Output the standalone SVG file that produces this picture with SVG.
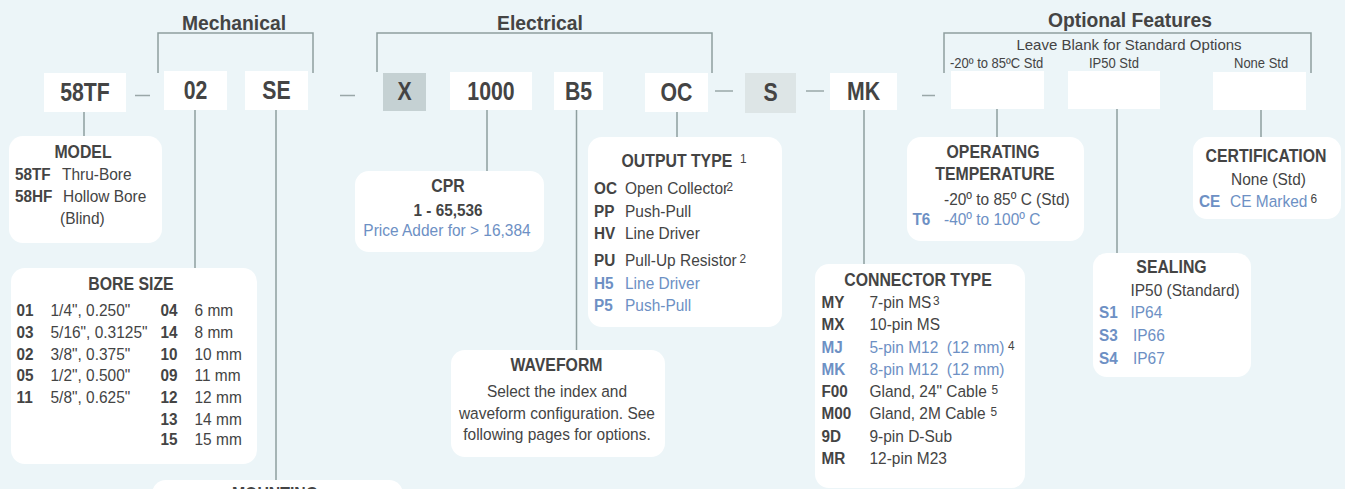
<svg xmlns="http://www.w3.org/2000/svg" width="1345" height="489" viewBox="0 0 1345 489">
<style>
text { font-family: "Liberation Sans", Arial, sans-serif; fill: #444; transform-box: fill-box; transform-origin: left center; }
.m { text-anchor: middle; transform-origin: center; }
.code { font-size: 25px; font-weight: bold; transform: scaleX(0.85); }
.hd { font-size: 21px; font-weight: bold; transform: scaleX(0.92); }
.bh { font-size: 18px; font-weight: bold; transform: scaleX(0.88); }
.b { font-size: 17px; transform: scaleX(0.91); }
.bb { font-size: 17px; font-weight: bold; transform: scaleX(0.9); }
.sup { font-size: 13px; transform: scaleX(0.91); }
.sm { font-size: 14px; transform: scaleX(0.93); }
.sm2 { font-size: 15px; }
.blue { fill: #6D90C4; }
.cbox { fill: #ffffff; }
.ibox { fill: #ffffff; }
.ln { stroke: #8E9E9F; stroke-width: 1.5; fill: none; }
.dash { stroke: #9AA7A8; stroke-width: 1.5; fill: none; }
</style>
<rect x="0" y="0" width="1345" height="489" fill="#ECF5F8"/>

<g id="connectors">
  <path class="ln" d="M158 73 V33 H313 V73"/>
  <path class="ln" d="M377 72 V33 H712 V73"/>
  <path class="ln" d="M944 73 V33 H1311 V73"/>
  <line class="dash" x1="135" y1="95.5" x2="150" y2="95.5"/>
  <line class="dash" x1="340" y1="95.5" x2="355" y2="95.5"/>
  <line class="dash" x1="715" y1="91" x2="733" y2="91"/>
  <line class="dash" x1="806" y1="91" x2="824" y2="91"/>
  <line class="dash" x1="922" y1="95.5" x2="935" y2="95.5"/>
  <line class="ln" x1="84" y1="112" x2="84" y2="136"/>
  <line class="ln" x1="195" y1="110" x2="195" y2="268"/>
  <line class="ln" x1="276" y1="110" x2="276" y2="480"/>
  <line class="ln" x1="487" y1="110" x2="487" y2="171"/>
  <line class="ln" x1="576.5" y1="110" x2="576.5" y2="350"/>
  <line class="ln" x1="677" y1="112" x2="677" y2="137"/>
  <line class="ln" x1="864" y1="110" x2="864" y2="264"/>
  <line class="ln" x1="997" y1="109" x2="997" y2="137"/>
  <line class="ln" x1="1117" y1="109" x2="1117" y2="253"/>
  <line class="ln" x1="1261" y1="110" x2="1261" y2="137"/>
</g>

<g id="headers">
  <text class="hd m" x="234" y="30">Mechanical</text>
  <text class="hd m" x="540" y="30">Electrical</text>
  <text class="hd m" x="1130" y="27">Optional Features</text>
  <text class="sm2 m" x="1129" y="50">Leave Blank for Standard Options</text>
  <text class="sm" x="950" y="68">-20º to 85ºC Std</text>
  <text class="sm" x="1089" y="68">IP50 Std</text>
  <text class="sm" x="1234" y="68">None Std</text>
</g>

<g id="code-58TF"><rect class="cbox" x="44" y="73" width="82" height="39"/><text class="code m" x="85" y="101">58TF</text></g>
<g id="code-02"><rect class="cbox" x="164" y="71" width="63" height="39"/><text class="code m" x="195.5" y="99">02</text></g>
<g id="code-SE"><rect class="cbox" x="245" y="71" width="63" height="39"/><text class="code m" x="276.5" y="99">SE</text></g>
<g id="code-X"><rect x="383" y="73" width="43" height="38" fill="#C5D1D3"/><text class="code m" x="404.5" y="100.5">X</text></g>
<g id="code-1000"><rect class="cbox" x="450" y="72" width="82" height="38"/><text class="code m" x="491" y="100">1000</text></g>
<g id="code-B5"><rect class="cbox" x="554" y="72" width="49" height="38"/><text class="code m" x="578.5" y="100">B5</text></g>
<g id="code-OC"><rect class="cbox" x="645" y="73" width="63" height="39"/><text class="code m" x="676.5" y="101">OC</text></g>
<g id="code-S"><rect x="745" y="73" width="51" height="40" fill="#DDE5E6"/><text class="code m" x="770.5" y="101">S</text></g>
<g id="code-MK"><rect class="cbox" x="830" y="73" width="67" height="37"/><text class="code m" x="863.5" y="100.5">MK</text></g>
<g id="code-temp"><rect class="cbox" x="951" y="71" width="93" height="38"/></g>
<g id="code-seal"><rect class="cbox" x="1068" y="71" width="92" height="38"/></g>
<g id="code-cert"><rect class="cbox" x="1213" y="72" width="93" height="38"/></g>

<g id="model">
  <rect class="ibox" x="9" y="136" width="153" height="107" rx="14"/>
  <text class="bh m" x="83" y="158">MODEL</text>
  <text class="bb" x="15" y="180">58TF</text>
  <text class="b" x="62" y="180">Thru-Bore</text>
  <text class="bb" x="15" y="202.5">58HF</text>
  <text class="b" x="63" y="202.5">Hollow Bore</text>
  <text class="b" x="60" y="224">(Blind)</text>
</g>

<g id="bore-size">
  <rect class="ibox" x="11" y="268" width="246" height="196" rx="14"/>
  <text class="bh m" x="131" y="290">BORE SIZE</text>
  <text class="bb" x="16.5" y="316.5">01</text><text class="b" x="50.5" y="316.5">1/4", 0.250"</text>
  <text class="bb" x="16.5" y="338">03</text><text class="b" x="50.5" y="338">5/16", 0.3125"</text>
  <text class="bb" x="16.5" y="360">02</text><text class="b" x="50.5" y="360">3/8", 0.375"</text>
  <text class="bb" x="16.5" y="381.5">05</text><text class="b" x="50.5" y="381.5">1/2", 0.500"</text>
  <text class="bb" x="16.5" y="403">11</text><text class="b" x="50.5" y="403">5/8", 0.625"</text>
  <text class="bb" x="160.5" y="316.5">04</text><text class="b" x="194.5" y="316.5">6 mm</text>
  <text class="bb" x="160.5" y="338">14</text><text class="b" x="194.5" y="338">8 mm</text>
  <text class="bb" x="160.5" y="360">10</text><text class="b" x="194.5" y="360">10 mm</text>
  <text class="bb" x="160.5" y="381.5">09</text><text class="b" x="194.5" y="381.5">11 mm</text>
  <text class="bb" x="160.5" y="403">12</text><text class="b" x="194.5" y="403">12 mm</text>
  <text class="bb" x="160.5" y="425">13</text><text class="b" x="194.5" y="425">14 mm</text>
  <text class="bb" x="160.5" y="445">15</text><text class="b" x="194.5" y="445">15 mm</text>
</g>

<g id="mounting">
  <rect class="ibox" x="152" y="480" width="251" height="40" rx="14"/>
  <text class="bh m" x="275" y="500">MOUNTING</text>
</g>

<g id="cpr">
  <rect class="ibox" x="355" y="171" width="189" height="81" rx="14"/>
  <text class="bh m" x="448" y="192.5">CPR</text>
  <text class="bb m" x="448" y="216">1 - 65,536</text>
  <text class="b m blue" x="447" y="236.5">Price Adder for &gt; 16,384</text>
</g>

<g id="waveform">
  <rect class="ibox" x="451" y="350" width="214" height="107" rx="14"/>
  <text class="bh m" x="556.5" y="371.5">WAVEFORM</text>
  <text class="b m" x="557" y="397">Select the index and</text>
  <text class="b m" x="557" y="419">waveform configuration. See</text>
  <text class="b m" x="557" y="440.5">following pages for options.</text>
</g>

<g id="output-type">
  <rect class="ibox" x="588" y="137" width="194" height="190" rx="14"/>
  <text class="bh" x="621.5" y="167.5">OUTPUT TYPE</text>
  <text class="sup" x="740" y="163">1</text>
  <text class="bb" x="594" y="194">OC</text><text class="b" x="625" y="194">Open Collector</text><text class="sup" x="726.5" y="191">2</text>
  <text class="bb" x="594" y="217">PP</text><text class="b" x="625" y="217">Push-Pull</text>
  <text class="bb" x="594" y="239">HV</text><text class="b" x="625" y="239">Line Driver</text>
  <text class="bb" x="594" y="266.5">PU</text><text class="b" x="625" y="266.5">Pull-Up Resistor</text><text class="sup" x="739.5" y="263">2</text>
  <text class="bb blue" x="594" y="289">H5</text><text class="b blue" x="625" y="289">Line Driver</text>
  <text class="bb blue" x="594" y="311">P5</text><text class="b blue" x="625" y="311">Push-Pull</text>
</g>

<g id="connector-type">
  <rect class="ibox" x="815" y="264" width="210" height="224" rx="14"/>
  <text class="bh m" x="918" y="286">CONNECTOR TYPE</text>
  <text class="bb" x="821.5" y="308">MY</text><text class="b" x="869.5" y="308">7-pin MS</text><text class="sup" x="933" y="305">3</text>
  <text class="bb" x="821.5" y="330.5">MX</text><text class="b" x="869.5" y="330.5">10-pin MS</text>
  <text class="bb blue" x="821.5" y="353">MJ</text><text class="b blue" x="869.5" y="353" xml:space="preserve">5-pin M12  (12 mm)</text><text class="sup" x="1008" y="350">4</text>
  <text class="bb blue" x="821.5" y="375.5">MK</text><text class="b blue" x="869.5" y="375.5" xml:space="preserve">8-pin M12  (12 mm)</text>
  <text class="bb" x="821.5" y="397">F00</text><text class="b" x="869.5" y="397">Gland, 24" Cable</text><text class="sup" x="991.5" y="394">5</text>
  <text class="bb" x="821.5" y="419">M00</text><text class="b" x="869.5" y="419">Gland, 2M Cable</text><text class="sup" x="990.5" y="416.5">5</text>
  <text class="bb" x="821.5" y="442.5">9D</text><text class="b" x="869.5" y="442.5">9-pin D-Sub</text>
  <text class="bb" x="821.5" y="464">MR</text><text class="b" x="869.5" y="464">12-pin M23</text>
</g>

<g id="operating-temperature">
  <rect class="ibox" x="907" y="137" width="177" height="104" rx="14"/>
  <text class="bh m" x="993" y="158">OPERATING</text>
  <text class="bh m" x="995" y="180.5">TEMPERATURE</text>
  <text class="b" x="944" y="205">-20º to 85º C (Std)</text>
  <text class="bb blue" x="912.5" y="225.5">T6</text>
  <text class="b blue" x="944" y="225.5">-40º to 100º C</text>
</g>

<g id="sealing">
  <rect class="ibox" x="1093" y="253" width="158" height="124" rx="14"/>
  <text class="bh m" x="1171.5" y="273">SEALING</text>
  <text class="b" x="1130.5" y="296.5">IP50 (Standard)</text>
  <text class="bb blue" x="1099" y="318">S1</text><text class="b blue" x="1130.5" y="318">IP64</text>
  <text class="bb blue" x="1099" y="341.5">S3</text><text class="b blue" x="1133" y="341.5">IP66</text>
  <text class="bb blue" x="1099" y="364">S4</text><text class="b blue" x="1133" y="364">IP67</text>
</g>

<g id="certification">
  <rect class="ibox" x="1193" y="137" width="148" height="82" rx="14"/>
  <text class="bh m" x="1266" y="162">CERTIFICATION</text>
  <text class="b m" x="1268.5" y="185">None (Std)</text>
  <text class="bb blue" x="1199" y="207">CE</text>
  <text class="b blue" x="1230" y="207">CE Marked</text>
  <text class="sup" x="1310.5" y="203">6</text>
</g>
</svg>
